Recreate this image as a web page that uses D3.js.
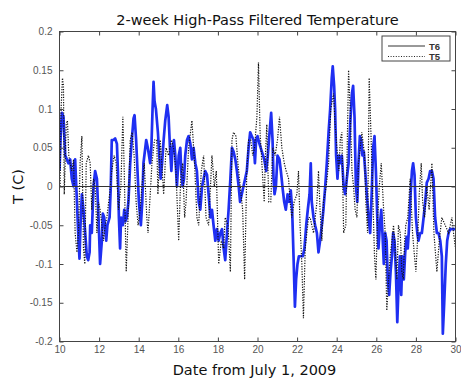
<!DOCTYPE html>
<html>
<head>
<meta charset="utf-8">
<style>
  body { margin: 0; background: #fff; }
  svg text { font-family: "DejaVu Sans", sans-serif; }
</style>
</head>
<body>
<div id="chart"></div>
<script src="https://d3js.org/d3.v7.min.js"></script>
<script>
  // T6 (solid blue): day from July 1 and value in C
  const t6Days = [10.00,10.05,10.12,10.20,10.29,10.37,10.45,10.54,10.62,10.71,10.74,10.79,10.88,10.96,11.01,11.06,11.13,11.21,11.30,11.38,11.45,11.52,11.55,11.63,11.72,11.80,11.89,11.97,12.05,12.14,12.19,12.26,12.36,12.42,12.53,12.59,12.64,12.73,12.81,12.90,12.95,13.00,13.06,13.11,13.20,13.27,13.33,13.40,13.48,13.57,13.65,13.74,13.79,13.87,13.94,14.01,14.11,14.18,14.24,14.38,14.46,14.58,14.64,14.70,14.75,14.80,14.87,14.97,15.04,15.11,15.18,15.26,15.34,15.44,15.51,15.58,15.65,15.71,15.78,15.85,15.93,16.02,16.10,16.15,16.22,16.29,16.35,16.44,16.52,16.61,16.69,16.77,16.86,16.94,17.03,17.11,17.20,17.28,17.36,17.45,17.53,17.62,17.70,17.78,17.87,17.95,18.04,18.12,18.21,18.29,18.37,18.46,18.54,18.63,18.71,18.79,18.88,18.96,19.05,19.12,19.29,19.46,19.55,19.63,19.71,19.80,19.87,19.93,20.00,20.10,20.22,20.34,20.44,20.52,20.61,20.69,20.76,20.81,20.86,20.93,21.01,21.11,21.18,21.28,21.35,21.43,21.52,21.60,21.68,21.75,21.82,21.89,21.95,22.02,22.09,22.19,22.29,22.37,22.46,22.54,22.63,22.69,22.74,22.83,22.91,23.00,23.08,23.16,23.25,23.33,23.42,23.50,23.59,23.67,23.75,23.80,23.87,23.92,23.97,24.04,24.11,24.18,24.26,24.35,24.43,24.51,24.60,24.68,24.77,24.83,24.90,24.97,25.04,25.10,25.17,25.24,25.30,25.37,25.44,25.52,25.61,25.69,25.78,25.84,25.91,25.98,26.05,26.11,26.18,26.25,26.31,26.38,26.45,26.52,26.58,26.65,26.72,26.79,26.85,26.92,26.99,27.06,27.12,27.19,27.26,27.32,27.39,27.46,27.53,27.59,27.66,27.73,27.80,27.86,27.93,28.00,28.07,28.13,28.22,28.30,28.39,28.47,28.55,28.64,28.72,28.81,28.89,28.97,29.06,29.14,29.23,29.31,29.36,29.43,29.51,29.58,29.65,29.73,29.90,30.00];
  const t6Vals = [0.02,0.06,0.095,0.09,0.04,0.035,0.03,0.035,0.01,0.0,0.03,0.035,-0.02,-0.07,-0.093,-0.05,-0.01,-0.03,-0.06,-0.09,-0.095,-0.085,-0.05,-0.06,0.0,0.02,0.01,-0.04,-0.1,-0.07,-0.035,-0.04,-0.07,-0.05,-0.04,0.0,0.06,0.06,0.062,0.055,0.02,-0.04,-0.08,-0.04,-0.05,-0.03,-0.045,-0.04,-0.02,0.03,0.06,0.088,0.092,0.06,0.02,-0.02,-0.05,-0.02,0.03,0.06,0.05,0.03,0.05,0.1,0.135,0.11,0.1,0.07,0.04,0.01,0.03,0.06,0.085,0.105,0.09,0.05,0.02,0.05,0.06,0.04,0.0,0.04,0.05,0.02,0.0,0.01,0.04,0.06,0.065,0.055,0.035,0.05,0.03,0.02,-0.02,-0.03,0.0,0.01,0.02,0.015,-0.01,-0.04,-0.03,-0.05,-0.07,-0.055,-0.07,-0.06,-0.055,-0.08,-0.095,-0.06,-0.03,0.01,0.05,0.045,0.035,0.02,0.0,-0.02,0.0,0.02,0.05,0.07,0.065,0.06,0.03,0.06,0.065,0.055,0.045,0.035,0.02,0.04,0.07,0.095,0.06,0.01,-0.01,0.0,0.04,0.035,0.02,-0.005,-0.02,-0.03,-0.01,-0.02,-0.005,-0.03,-0.09,-0.155,-0.12,-0.1,-0.09,-0.09,-0.09,-0.08,-0.05,-0.03,-0.01,0.03,-0.02,-0.04,-0.05,-0.06,-0.085,-0.07,-0.05,-0.03,0.0,0.03,0.07,0.1,0.14,0.155,0.13,0.1,0.04,0.01,0.04,0.03,0.04,0.0,-0.01,0.01,0.03,0.08,0.12,0.13,0.09,0.0,-0.02,0.03,0.065,0.06,0.04,0.045,0.02,-0.01,-0.04,-0.06,0.0,0.05,0.065,0.02,-0.04,-0.08,-0.05,-0.03,-0.06,-0.1,-0.06,-0.07,-0.12,-0.14,-0.11,-0.09,-0.06,-0.07,-0.11,-0.175,-0.13,-0.09,-0.14,-0.09,-0.12,-0.085,-0.065,-0.08,-0.05,-0.01,0.02,0.03,0.015,-0.04,-0.06,-0.07,-0.06,-0.06,-0.04,-0.02,0.005,0.01,0.02,0.02,0.01,-0.04,-0.06,-0.06,-0.07,-0.09,-0.19,-0.15,-0.1,-0.07,-0.06,-0.055,-0.055,-0.055];

  // T5 (dotted black)
  const t5Days = [10.03,10.08,10.15,10.20,10.24,10.34,10.40,10.47,10.54,10.62,10.71,10.79,10.88,10.96,11.04,11.13,11.21,11.28,11.35,11.46,11.55,11.63,11.72,11.80,11.89,11.97,12.05,12.14,12.22,12.31,12.39,12.53,12.64,12.76,12.86,12.98,13.10,13.20,13.27,13.37,13.45,13.57,13.67,13.77,13.87,13.97,14.07,14.16,14.28,14.41,14.47,14.67,14.80,14.91,14.97,15.09,15.26,15.38,15.51,15.65,15.76,15.88,16.02,16.12,16.22,16.32,16.39,16.52,16.69,16.82,16.94,17.03,17.16,17.28,17.40,17.53,17.70,17.82,17.92,18.04,18.17,18.29,18.37,18.51,18.63,18.71,18.79,18.91,19.01,19.13,19.25,19.35,19.46,19.55,19.66,19.76,19.85,19.97,20.05,20.13,20.22,20.34,20.40,20.47,20.57,20.67,20.77,20.89,21.01,21.11,21.23,21.35,21.45,21.57,21.65,21.73,21.85,21.99,22.07,22.15,22.24,22.32,22.41,22.49,22.58,22.66,22.74,22.83,23.00,23.08,23.16,23.25,23.33,23.47,23.59,23.70,23.84,23.92,24.01,24.11,24.18,24.26,24.35,24.46,24.60,24.68,24.77,24.85,24.93,25.02,25.10,25.19,25.27,25.41,25.47,25.56,25.64,25.74,25.81,25.91,25.98,26.05,26.15,26.25,26.37,26.45,26.53,26.62,26.70,26.79,26.87,26.95,27.04,27.12,27.21,27.29,27.36,27.43,27.49,27.59,27.71,27.83,27.93,28.00,28.10,28.17,28.27,28.34,28.44,28.55,28.67,28.81,28.91,29.06,29.18,29.31,29.48,29.65,29.82,29.90,30.00];
  const t5Vals = [0.0,0.1,0.14,0.13,-0.01,0.08,0.085,0.04,0.03,0.02,0.035,-0.06,-0.085,-0.06,0.03,0.065,-0.08,-0.1,0.03,0.04,0.03,-0.03,0.01,0.0,-0.06,-0.02,-0.03,-0.05,-0.07,-0.05,-0.04,-0.01,0.02,0.04,0.03,-0.03,0.0,0.09,0.02,-0.11,-0.05,0.06,0.07,0.04,-0.02,-0.05,-0.03,0.0,0.03,-0.04,-0.06,0.03,0.06,0.06,-0.01,0.06,-0.01,0.05,0.04,0.06,0.05,0.02,-0.07,0.01,0.03,-0.04,-0.02,0.05,0.085,0.03,-0.04,-0.05,0.02,0.04,-0.04,-0.05,0.04,0.0,0.02,-0.1,-0.07,-0.08,-0.04,-0.05,-0.11,0.06,0.07,0.065,0.03,0.0,-0.03,-0.12,0.02,0.06,0.06,0.04,0.05,0.09,0.16,0.07,0.03,-0.02,0.04,0.08,-0.02,-0.02,0.05,0.04,0.06,0.09,0.05,0.03,0.02,0.01,-0.02,-0.04,-0.02,-0.01,0.02,-0.05,-0.1,-0.17,-0.08,-0.06,-0.04,-0.04,-0.05,-0.06,-0.02,0.02,-0.03,-0.07,-0.02,0.0,0.03,0.1,0.12,0.08,0.05,0.02,0.06,0.07,-0.06,-0.05,0.15,0.1,0.02,0.0,-0.03,-0.04,0.03,0.05,0.07,0.04,-0.02,-0.06,0.14,0.06,0.0,-0.09,-0.12,-0.05,0.0,0.03,-0.03,-0.06,-0.16,-0.12,-0.09,-0.07,-0.05,-0.08,-0.12,-0.05,-0.06,-0.11,-0.12,-0.07,-0.05,-0.04,0.01,-0.06,-0.09,-0.11,-0.06,-0.01,0.03,-0.02,-0.04,0.0,-0.03,0.03,-0.06,-0.11,-0.07,-0.04,-0.05,-0.06,-0.04,-0.06,-0.08];

  const xTicks = [10, 12, 14, 16, 18, 20, 22, 24, 26, 28, 30];
  const yTicks = [-0.2, -0.15, -0.1, -0.05, 0, 0.05, 0.1, 0.15, 0.2];
  const yTickLabels = ["-0.2", "-0.15", "-0.1", "-0.05", "0", "0.05", "0.1", "0.15", "0.2"];
  const seriesNames = ["T6", "T5"];

  const W = 461, H = 379;
  const pL = 59.5, pR = 455.5, pT = 31.5, pB = 341.5;

  const svg = d3.select("#chart").append("svg")
    .attr("width", W).attr("height", H);

  const x = d3.scaleLinear().domain([10, 30]).range([pL, pR]);
  const y = d3.scaleLinear().domain([-0.2, 0.2]).range([pB, pT]);

  const t6 = t6Days.map((d, i) => ({ d: d, v: t6Vals[i] })).filter(p => p.v !== undefined);
  const t5 = t5Days.map((d, i) => ({ d: d, v: t5Vals[i] })).filter(p => p.v !== undefined);
  const line = d3.line().x(p => x(p.d)).y(p => y(p.v));

  svg.append("clipPath").attr("id", "clip")
    .append("rect").attr("x", pL).attr("y", pT)
    .attr("width", pR - pL).attr("height", pB - pT);

  const plot = svg.append("g").attr("clip-path", "url(#clip)");

  plot.append("path").datum(t6)
    .attr("fill", "none").attr("stroke", "#1f2ff2")
    .attr("stroke-width", 2.7).attr("stroke-linejoin", "round")
    .attr("d", line);

  plot.append("path").datum(t5)
    .attr("fill", "none").attr("stroke", "#111")
    .attr("stroke-width", 1.2).attr("stroke-dasharray", "1.2,1.4")
    .attr("d", line);

  // zero line
  plot.append("line")
    .attr("x1", pL).attr("x2", pR)
    .attr("y1", y(0)).attr("y2", y(0))
    .attr("stroke", "#333").attr("stroke-width", 1);

  // axes with inward ticks on all four sides
  const styleAxis = g => {
    g.select(".domain").remove();
    g.selectAll(".tick line").attr("stroke", "#444");
    g.selectAll("text").attr("fill", "#555")
      .style("font-family", "'Liberation Sans', Arial, sans-serif")
      .style("font-size", "10px");
  };

  svg.append("g").attr("transform", `translate(0,${pB})`)
    .call(d3.axisBottom(x).tickValues(xTicks).tickFormat(d3.format("d"))
      .tickSizeInner(-4).tickSizeOuter(0).tickPadding(4))
    .call(styleAxis);

  svg.append("g").attr("transform", `translate(0,${pT})`)
    .call(d3.axisTop(x).tickValues(xTicks).tickFormat("")
      .tickSizeInner(-4).tickSizeOuter(0))
    .call(styleAxis);

  svg.append("g").attr("transform", `translate(${pL},0)`)
    .call(d3.axisLeft(y).tickValues(yTicks)
      .tickFormat((d, i) => yTickLabels[i])
      .tickSizeInner(-4).tickSizeOuter(0).tickPadding(7))
    .call(styleAxis);

  svg.append("g").attr("transform", `translate(${pR},0)`)
    .call(d3.axisRight(y).tickValues(yTicks).tickFormat("")
      .tickSizeInner(-4).tickSizeOuter(0))
    .call(styleAxis);

  // frame
  svg.append("rect")
    .attr("x", pL).attr("y", pT)
    .attr("width", pR - pL).attr("height", pB - pT)
    .attr("fill", "none").attr("stroke", "#444").attr("stroke-width", 1);

  // title and axis labels
  svg.append("text")
    .attr("x", (pL + pR) / 2).attr("y", 25)
    .attr("text-anchor", "middle").attr("fill", "#111")
    .style("font-size", "14.5px")
    .text("2-week High-Pass Filtered Temperature");

  svg.append("text")
    .attr("x", (pL + pR) / 2 - 3).attr("y", 375)
    .attr("text-anchor", "middle").attr("fill", "#111")
    .style("font-size", "14.5px")
    .text("Date from July 1, 2009");

  svg.append("text")
    .attr("transform", `translate(23,${(pT + pB) / 2}) rotate(-90)`)
    .attr("text-anchor", "middle").attr("fill", "#111")
    .style("font-size", "14.5px")
    .text("T (C)");

  // legend
  const lg = svg.append("g");
  lg.append("rect")
    .attr("x", 382).attr("y", 36).attr("width", 68).attr("height", 25)
    .attr("fill", "#fff").attr("stroke", "#444").attr("stroke-width", 1);

  seriesNames.forEach((name, i) => {
    const ly = 46 + i * 10.5;
    lg.append("line")
      .attr("x1", 388).attr("x2", 425).attr("y1", ly).attr("y2", ly)
      .attr("stroke", i === 0 ? "#333" : "#222")
      .attr("stroke-width", 1)
      .attr("stroke-dasharray", i === 0 ? null : "1,1.6");
    lg.append("text")
      .attr("x", 429).attr("y", ly + 3.5)
      .attr("fill", "#333")
      .style("font-family", "'Liberation Sans', Arial, sans-serif")
      .style("font-size", "9.5px").style("font-weight", "bold")
      .text(name);
  });
</script>
</body>
</html>
